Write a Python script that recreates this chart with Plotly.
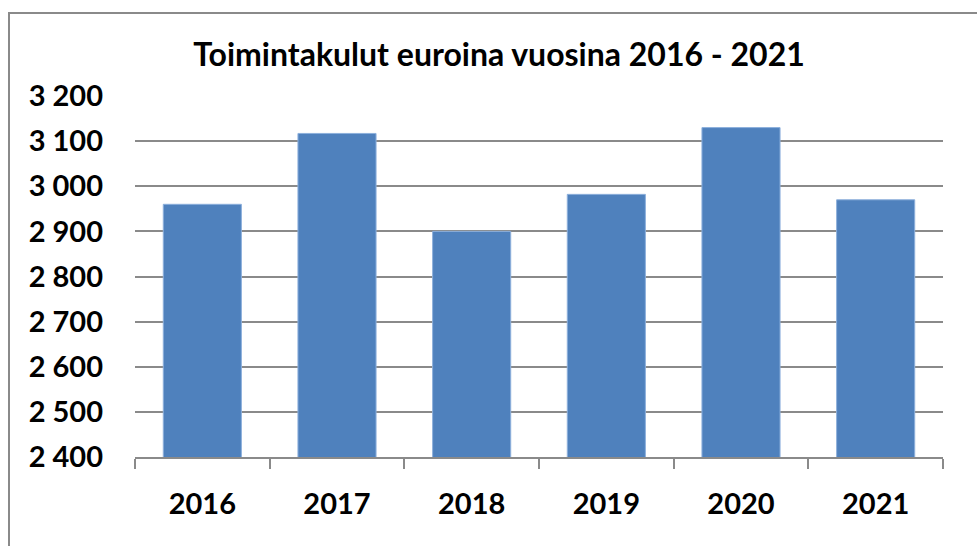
import plotly.graph_objects as go

years = ["2016", "2017", "2018", "2019", "2020", "2021"]
costs = [2960, 3117, 2900, 2982, 3130, 2970]
y_ticks = [2400, 2500, 2600, 2700, 2800, 2900, 3000, 3100, 3200]
y_labels = ["2 400", "2 500", "2 600", "2 700", "2 800", "2 900", "3 000", "3 100", "3 200"]
title = "Toimintakulut euroina vuosina 2016 - 2021"

W, H = 977, 546
L, R, T, B = 135, 34, 96, 89
pw, ph = W - L - R, H - T - B

def px_x(p):
    return (p - L) / pw

def px_y(p):
    return (H - B - p) / ph

font = dict(family="Lato", size=29, color="#000000", weight="bold")

fig = go.Figure(go.Bar(
    x=years, y=costs,
    marker=dict(color="#4F81BD", line=dict(color="#8DB0DC", width=1)),
    width=0.58,
))

fig.update_layout(
    width=W, height=H,
    margin=dict(l=L, r=R, t=T, b=B),
    paper_bgcolor="white", plot_bgcolor="white",
    showlegend=False,
    title=dict(text=title, x=499 / W, xanchor="center", y=1 - 55 / H, yanchor="middle",
               font=dict(family="Lato", size=32, color="#000000", weight="bold")),
    xaxis=dict(
        showgrid=False, showline=True, linecolor="#8a8a8a", linewidth=2,
        ticks="outside", tickson="boundaries", ticklen=10, tickwidth=2, tickcolor="#8a8a8a",
        tickfont=font, ticklabelstandoff=20,
    ),
    yaxis=dict(
        range=[2400, 3200], tickvals=y_ticks, ticktext=y_labels,
        showgrid=True, gridcolor="#8a8a8a", gridwidth=2,
        showline=False, zeroline=False, ticks="",
        tickfont=font, ticklabelstandoff=31,
    ),
    shapes=[dict(type="rect", xref="paper", yref="paper",
                 x0=px_x(9), x1=px_x(995), y0=px_y(570), y1=px_y(13),
                 line=dict(color="#8a8a8a", width=2), layer="below")],
)

fig.write_html("out.html")
